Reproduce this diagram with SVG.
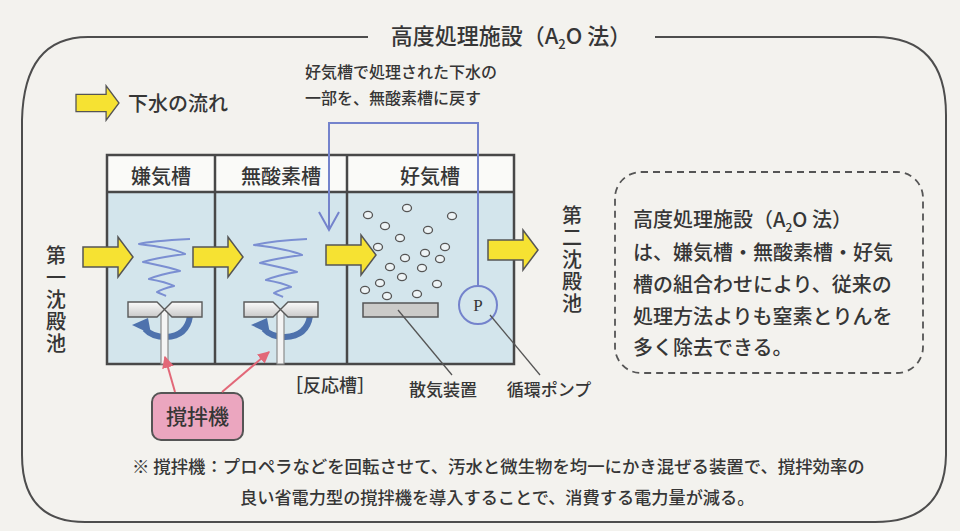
<svg xmlns="http://www.w3.org/2000/svg" width="960" height="531" viewBox="0 0 960 531">
  <defs>
    <style>
      text { font-family: "Noto Sans CJK JP", "Noto Sans", sans-serif; fill: #363636; font-weight: 500; }
      .vert { writing-mode: vertical-rl; letter-spacing: 2px; }
      .frame { fill: none; stroke: #4d4d4d; stroke-width: 2; }
      .wall { fill: none; stroke: #484848; stroke-width: 2.5; }
      .flow { fill: #f6e232; stroke: #555; stroke-width: 1.5; stroke-linejoin: miter; }
      .spiral { fill: none; stroke: #7b8fd2; stroke-width: 2; stroke-linejoin: round; }
      .blade { fill: url(#bladeGrad); stroke: #5a5a5a; stroke-width: 1.4; }
      .shaft { fill: #f4f4f4; stroke: #8a8a8a; stroke-width: 1.2; }
      .swirl { fill: none; stroke: #4e72ad; stroke-width: 6; }
      .swirlHead { fill: #4e72ad; }
      .bubble { fill: #eef4f6; stroke: #555; stroke-width: 1.3; }
      .ret { fill: none; stroke: #7483cc; stroke-width: 2; }
      .leader { fill: none; stroke: #555; stroke-width: 1.3; }
      .pointer { fill: none; stroke: #e26878; stroke-width: 2; }
    </style>
    <linearGradient id="bladeGrad" x1="0" y1="0" x2="0" y2="1">
      <stop offset="0" stop-color="#fbfbfb"/>
      <stop offset="1" stop-color="#c9c9c9"/>
    </linearGradient>
    <path id="flowArrow" d="M0,-10 H35 V-20 L50,0 L35,20 V10 H0 Z"/>
    <marker id="redHead" viewBox="0 0 10 10" refX="9" refY="5" markerWidth="6" markerHeight="6" orient="auto">
      <path d="M0,0 L10,5 L0,10 Z" fill="#e26878"/>
    </marker>
  </defs>

  <!-- paper -->
  <rect x="0" y="0" width="960" height="531" fill="#f3f2ee"/>

  <!-- outer frame with title -->
  <g id="frame">
    <path class="frame" d="M368,37 H88 Q24,37 22,120 V455 Q22,522 85,522 H875 Q945,522 946,455 V115 Q946,37 875,37 H655"/>
    <text x="511" y="44" font-size="22" text-anchor="middle">高度処理施設（A<tspan font-size="13" dy="5">2</tspan><tspan dy="-5">O 法）</tspan></text>
  </g>

  <!-- legend -->
  <g id="legend">
    <use href="#flowArrow" class="flow" transform="translate(76,103) scale(0.86)"/>
    <text x="128" y="111" font-size="20">下水の流れ</text>
  </g>

  <!-- return flow note -->
  <g id="return-note">
    <text x="305" y="78" font-size="16">好気槽で処理された下水の</text>
    <text x="305" y="104" font-size="16">一部を、無酸素槽に戻す</text>
  </g>

  <!-- reaction tanks -->
  <g id="tanks">
    <rect x="107" y="192" width="407" height="172" fill="#d3e5ec"/>
    <rect x="107" y="155" width="407" height="37" fill="#fafaf8"/>
    <rect class="wall" x="107" y="155" width="407" height="209"/>
    <line class="wall" x1="107" y1="192" x2="514" y2="192"/>
    <line class="wall" x1="215" y1="155" x2="215" y2="364"/>
    <line class="wall" x1="347" y1="155" x2="347" y2="364"/>
    <text x="161" y="184" font-size="20" text-anchor="middle">嫌気槽</text>
    <text x="281" y="184" font-size="20" text-anchor="middle">無酸素槽</text>
    <text x="430" y="184" font-size="20" text-anchor="middle">好気槽</text>
  </g>

  <!-- mixer in anaerobic tank -->
  <g id="mixer-1">
    <path class="spiral" d="M190,239 C170,240 150,241 139,244 C155,246 172,248 185,254 C170,256 155,258 143,262 C157,265 170,267 180,271 C168,273 158,275 149,279 C160,281 168,283 174,286 C166,288 160,290 157,292 C161,294 164,295 166,296"/>
    <path class="swirl" d="M190,316 Q187,336 166,337 Q152,337 145,329"/>
    <polygon class="swirlHead" points="132,325 148,318 151,334"/>
    <rect class="shaft" x="161" y="309" width="7" height="55"/>
    <polygon class="blade" points="128,302 157,302 164.5,309.5 157,317 128,317"/>
    <polygon class="blade" points="202,302 172,302 164.5,309.5 172,317 202,317"/>
  </g>

  <!-- mixer in anoxic tank -->
  <g id="mixer-2">
    <path class="spiral" d="M307,239 C288,240 268,242 254,245 C270,247 288,249 302,255 C287,257 272,259 260,263 C274,266 287,268 297,272 C285,274 275,276 266,280 C277,282 285,284 291,287 C283,289 277,291 274,293 C278,295 281,296 283,297"/>
    <path class="swirl" d="M310,316 Q307,336 285,337 Q271,337 264,329"/>
    <polygon class="swirlHead" points="251,325 267,318 270,334"/>
    <rect class="shaft" x="277" y="309" width="7" height="55"/>
    <polygon class="blade" points="244,302 273,302 280.5,309.5 273,317 244,317"/>
    <polygon class="blade" points="318,302 288,302 280.5,309.5 288,317 318,317"/>
  </g>

  <!-- aeration: bubbles and diffuser -->
  <g id="aeration">
    <ellipse class="bubble" cx="368" cy="215" rx="4.5" ry="3.6"/>
    <ellipse class="bubble" cx="407" cy="208" rx="4.5" ry="3.6"/>
    <ellipse class="bubble" cx="452" cy="216" rx="4.5" ry="3.6"/>
    <ellipse class="bubble" cx="385" cy="226" rx="4.5" ry="3.6"/>
    <ellipse class="bubble" cx="428" cy="230" rx="4.5" ry="3.6"/>
    <ellipse class="bubble" cx="400" cy="238" rx="4.5" ry="3.6"/>
    <ellipse class="bubble" cx="378" cy="247" rx="4.5" ry="3.6"/>
    <ellipse class="bubble" cx="445" cy="247" rx="4.5" ry="3.6"/>
    <ellipse class="bubble" cx="425" cy="253" rx="4.5" ry="3.6"/>
    <ellipse class="bubble" cx="405" cy="258" rx="4.5" ry="3.6"/>
    <ellipse class="bubble" cx="440" cy="259" rx="4.5" ry="3.6"/>
    <ellipse class="bubble" cx="390" cy="267" rx="4.5" ry="3.6"/>
    <ellipse class="bubble" cx="422" cy="268" rx="4.5" ry="3.6"/>
    <ellipse class="bubble" cx="402" cy="277" rx="4.5" ry="3.6"/>
    <ellipse class="bubble" cx="380" cy="283" rx="4.5" ry="3.6"/>
    <ellipse class="bubble" cx="437" cy="284" rx="4.5" ry="3.6"/>
    <ellipse class="bubble" cx="365" cy="290" rx="4.5" ry="3.6"/>
    <ellipse class="bubble" cx="387" cy="296" rx="4.5" ry="3.6"/>
    <ellipse class="bubble" cx="417" cy="294" rx="4.5" ry="3.6"/>
    <rect x="363" y="303" width="75" height="14" fill="#cbcbc9" stroke="#555" stroke-width="1.5"/>
  </g>

  <!-- circulation pump -->
  <g id="pump">
    <circle cx="478" cy="305" r="19" fill="#d3e5ec" stroke="#7483cc" stroke-width="2"/>
    <text x="478" y="311" font-size="17" text-anchor="middle" style="font-family:'Liberation Serif', serif; font-weight:400">P</text>
  </g>

  <!-- settling tanks (vertical labels) -->
  <g id="primary-settling">
    <text class="vert" x="56" y="245" font-size="20">第一沈殿池</text>
  </g>
  <g id="secondary-settling">
    <text class="vert" x="572" y="205" font-size="20">第二沈殿池</text>
  </g>

  <!-- description box -->
  <g id="description">
    <rect x="615" y="172" width="308" height="201" rx="26" fill="none" stroke="#555" stroke-width="1.8" stroke-dasharray="7 5"/>
    <text x="633" y="227" font-size="20">高度処理施設（A<tspan font-size="12" dy="5">2</tspan><tspan dy="-5">O 法）</tspan></text>
    <text x="633" y="260" font-size="20">は、嫌気槽・無酸素槽・好気</text>
    <text x="633" y="292" font-size="20">槽の組合わせにより、従来の</text>
    <text x="633" y="324" font-size="20">処理方法よりも窒素とりんを</text>
    <text x="633" y="355" font-size="20">多く除去できる。</text>
  </g>

  <!-- stirrer label -->
  <g id="stirrer">
    <rect x="152" y="393" width="91" height="47" rx="9" fill="#eba6bf" stroke="#555" stroke-width="2"/>
    <text x="197.5" y="424" font-size="21" text-anchor="middle">撹拌機</text>
  </g>

  <!-- component labels -->
  <g id="labels">
    <text x="330" y="392" font-size="18" text-anchor="middle">［反応槽］</text>
    <text x="443" y="396" font-size="17" text-anchor="middle">散気装置</text>
    <text x="549" y="396" font-size="17" text-anchor="middle">循環ポンプ</text>
  </g>

  <!-- connectors -->
  <g id="connectors">
    <use href="#flowArrow" class="flow" transform="translate(83,257)"/>
    <use href="#flowArrow" class="flow" transform="translate(193,257)"/>
    <use href="#flowArrow" class="flow" transform="translate(326,255)"/>
    <use href="#flowArrow" class="flow" transform="translate(488,250)"/>
    <path class="ret" d="M478,286 V123 H329 V229"/>
    <path class="ret" d="M319,212 L329,230 L339,212"/>
    <line class="leader" x1="398" y1="310" x2="452" y2="375"/>
    <line class="leader" x1="490" y1="315" x2="540" y2="375"/>
    <line class="pointer" x1="175" y1="392" x2="165" y2="357" marker-end="url(#redHead)"/>
    <line class="pointer" x1="222" y1="392" x2="269" y2="352" marker-end="url(#redHead)"/>
  </g>

  <!-- footnote -->
  <g id="footnote">
    <text x="132" y="473" font-size="17.4">※ 撹拌機：プロペラなどを回転させて、汚水と微生物を均一にかき混ぜる装置で、撹拌効率の</text>
    <text x="240" y="504" font-size="17.2">良い省電力型の撹拌機を導入することで、消費する電力量が減る。</text>
  </g>
</svg>
